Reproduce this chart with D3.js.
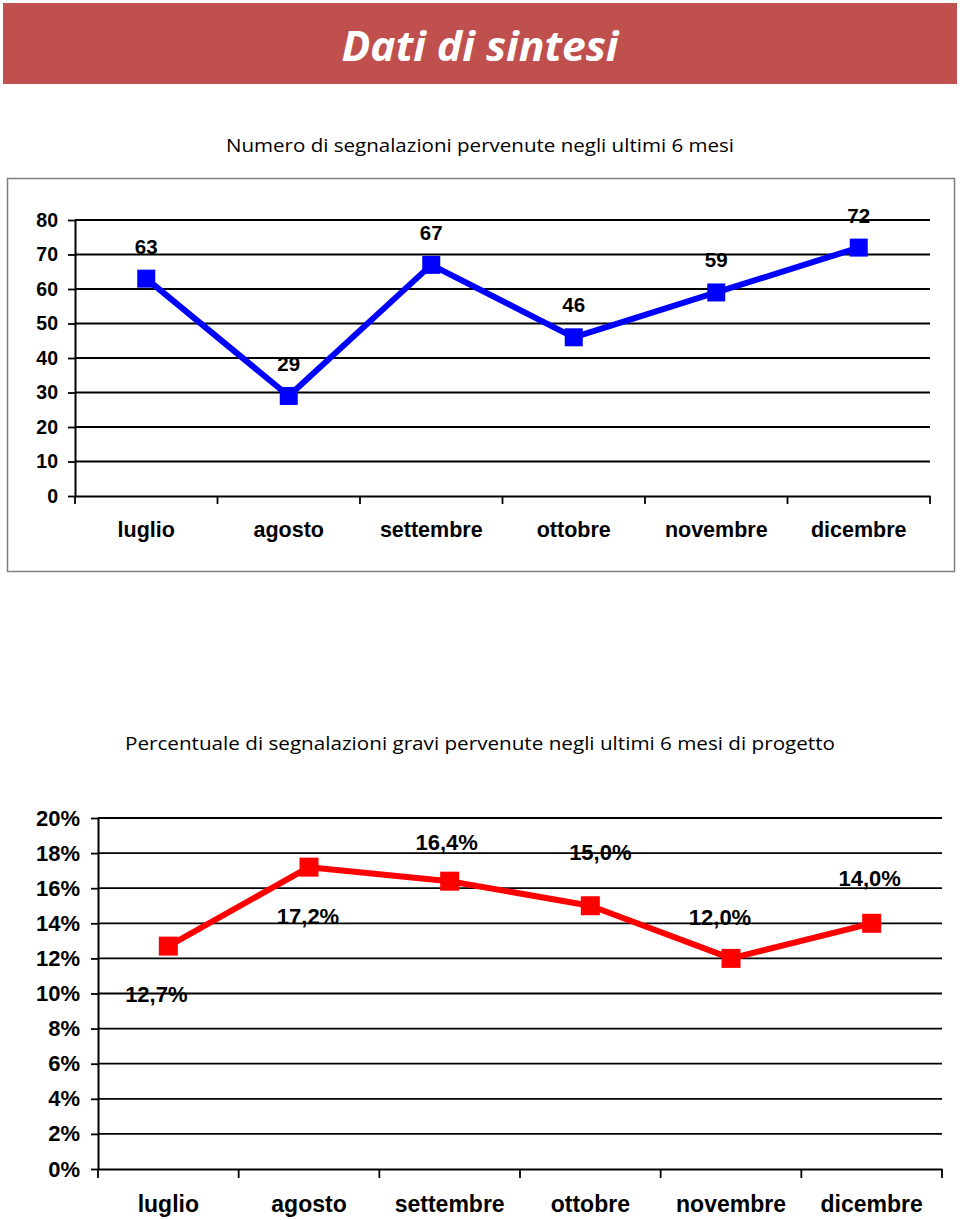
<!DOCTYPE html>
<html>
<head>
<meta charset="utf-8">
<script src="https://cdn.jsdelivr.net/npm/d3@7"></script>
<style>
  html, body { margin: 0; padding: 0; background: #fff; }
  svg { display: block; }
</style>
</head>
<body>
<svg id="chart" width="960" height="1220"></svg>
<script>
// ---------- DATA ----------
const months = ["luglio", "agosto", "settembre", "ottobre", "novembre", "dicembre"];
const reportCounts = [63, 29, 67, 46, 59, 72];
const countTicks = [0, 10, 20, 30, 40, 50, 60, 70, 80];
const severePct = [12.7, 17.2, 16.4, 15.0, 12.0, 14.0];
const severeLabels = ["12,7%", "17,2%", "16,4%", "15,0%", "12,0%", "14,0%"];
const pctTicks = [0, 2, 4, 6, 8, 10, 12, 14, 16, 18, 20];
const pageTitle = "Dati di sintesi";
const title1 = "Numero di segnalazioni pervenute negli ultimi 6 mesi";
const title2 = "Percentuale di segnalazioni gravi pervenute negli ultimi 6 mesi di progetto";

// ---------- LAYOUT ----------
const ARIAL = "'Liberation Sans', Arial, sans-serif";
const CAL = "'Open Sans', Lato, sans-serif";
const svg = d3.select("#chart");

// header band
svg.append("rect").attr("x", 3).attr("y", 3).attr("width", 954).attr("height", 81)
  .attr("fill", "#C0504D");
svg.append("text").attr("x", 480).attr("y", 61).attr("text-anchor", "middle")
  .attr("font-family", CAL).attr("font-weight", "bold").attr("font-style", "italic")
  .attr("font-size", 42).attr("fill", "#fff")
  .attr("textLength", 277).attr("lengthAdjust", "spacingAndGlyphs")
  .text(pageTitle);

// ---------- CHART 1 ----------
svg.append("text").attr("x", 480).attr("y", 152).attr("text-anchor", "middle")
  .attr("font-family", CAL).attr("font-size", 18).attr("fill", "#000")
  .attr("textLength", 508).attr("lengthAdjust", "spacingAndGlyphs")
  .text(title1);

svg.append("rect").attr("x", 7.5).attr("y", 178.5).attr("width", 947).attr("height", 393)
  .attr("fill", "none").attr("stroke", "#7f7f7f").attr("stroke-width", 1.5);

const g1 = svg.append("g");
const x1 = d3.scaleBand().domain(months).range([75, 930]);
const y1 = d3.scaleLinear().domain([0, 80]).range([496, 220]);

// gridlines
g1.selectAll("line.grid").data(countTicks.filter(d => d > 0)).join("line")
  .attr("x1", 75).attr("x2", 930).attr("y1", d => y1(d)).attr("y2", d => y1(d))
  .attr("stroke", "#000").attr("stroke-width", 1.8);

// y axis
const ya1 = g1.append("g").attr("transform", "translate(75,0)")
  .call(d3.axisLeft(y1).tickValues(countTicks).tickSize(7).tickPadding(10).tickSizeOuter(0));
ya1.select(".domain").attr("stroke", "#000").attr("stroke-width", 2);
ya1.selectAll(".tick line").attr("stroke", "#000").attr("stroke-width", 1.8);
ya1.selectAll(".tick text").attr("font-family", ARIAL).attr("font-weight", "bold")
  .attr("font-size", 19.5).attr("fill", "#000");

// x axis
const xa1 = g1.append("g").attr("transform", "translate(0,496)")
  .call(d3.axisBottom(x1).tickSize(0).tickPadding(0));
xa1.select(".domain").attr("stroke", "#000").attr("stroke-width", 2);
xa1.selectAll(".tick text").attr("font-family", ARIAL).attr("font-weight", "bold")
  .attr("font-size", 21.5).attr("fill", "#000").attr("dy", 0).attr("y", 41);
g1.selectAll("line.xt").data(d3.range(months.length + 1)).join("line")
  .attr("x1", i => 75 + i * x1.step()).attr("x2", i => 75 + i * x1.step())
  .attr("y1", 496).attr("y2", 504).attr("stroke", "#000").attr("stroke-width", 1.8);

// line + markers
const pts1 = months.map((m, i) => [x1(m) + x1.bandwidth() / 2, y1(reportCounts[i])]);
g1.append("path").attr("d", d3.line()(pts1)).attr("fill", "none")
  .attr("stroke", "#0000FF").attr("stroke-width", 6).attr("stroke-linejoin", "round");
g1.selectAll("rect.mk").data(pts1).join("rect")
  .attr("x", d => d[0] - 9).attr("y", d => d[1] - 9).attr("width", 18).attr("height", 18)
  .attr("fill", "#0000FF");
g1.selectAll("text.lbl").data(pts1).join("text")
  .attr("x", d => d[0]).attr("y", d => d[1] - 25).attr("text-anchor", "middle")
  .attr("font-family", ARIAL).attr("font-weight", "bold").attr("font-size", 20.5)
  .attr("fill", "#000").text((d, i) => reportCounts[i]);

// ---------- CHART 2 ----------
svg.append("text").attr("x", 480).attr("y", 750).attr("text-anchor", "middle")
  .attr("font-family", CAL).attr("font-size", 19).attr("fill", "#000")
  .attr("textLength", 710).attr("lengthAdjust", "spacingAndGlyphs")
  .text(title2);

const g2 = svg.append("g");
const x2 = d3.scaleBand().domain(months).range([98, 942]);
const y2 = d3.scaleLinear().domain([0, 20]).range([1169, 818]);

g2.selectAll("line.grid").data(pctTicks.filter(d => d > 0)).join("line")
  .attr("x1", 98).attr("x2", 942).attr("y1", d => y2(d)).attr("y2", d => y2(d))
  .attr("stroke", "#000").attr("stroke-width", 1.8);

const ya2 = g2.append("g").attr("transform", "translate(98,0)")
  .call(d3.axisLeft(y2).tickValues(pctTicks).tickFormat(d => d + "%")
    .tickSize(7).tickPadding(11).tickSizeOuter(0));
ya2.select(".domain").attr("stroke", "#000").attr("stroke-width", 2);
ya2.selectAll(".tick line").attr("stroke", "#000").attr("stroke-width", 1.8);
ya2.selectAll(".tick text").attr("font-family", ARIAL).attr("font-weight", "bold")
  .attr("font-size", 22).attr("fill", "#000");

const xa2 = g2.append("g").attr("transform", "translate(0,1169)")
  .call(d3.axisBottom(x2).tickSize(0).tickPadding(0));
xa2.select(".domain").attr("stroke", "#000").attr("stroke-width", 2);
xa2.selectAll(".tick text").attr("font-family", ARIAL).attr("font-weight", "bold")
  .attr("font-size", 23).attr("fill", "#000").attr("dy", 0).attr("y", 43);
g2.selectAll("line.xt").data(d3.range(months.length + 1)).join("line")
  .attr("x1", i => 98 + i * x2.step()).attr("x2", i => 98 + i * x2.step())
  .attr("y1", 1169).attr("y2", 1178).attr("stroke", "#000").attr("stroke-width", 1.8);

const pts2 = months.map((m, i) => [x2(m) + x2.bandwidth() / 2, y2(severePct[i])]);
g2.append("path").attr("d", d3.line()(pts2)).attr("fill", "none")
  .attr("stroke", "#FF0000").attr("stroke-width", 6).attr("stroke-linejoin", "round");
g2.selectAll("rect.mk").data(pts2).join("rect")
  .attr("x", d => d[0] - 9.5).attr("y", d => d[1] - 9.5).attr("width", 19).attr("height", 19)
  .attr("fill", "#FF0000");
// label placement offsets (layout, relative to each point)
const labelOffset = [[-12, 56], [-1, 57], [-3, -31], [10, -46], [-11, -33], [-2, -37]];
g2.selectAll("text.lbl").data(pts2).join("text")
  .attr("x", (d, i) => d[0] + labelOffset[i][0]).attr("y", (d, i) => d[1] + labelOffset[i][1])
  .attr("text-anchor", "middle")
  .attr("font-family", ARIAL).attr("font-weight", "bold").attr("font-size", 22)
  .attr("fill", "#000").text((d, i) => severeLabels[i]);
</script>
</body>
</html>
